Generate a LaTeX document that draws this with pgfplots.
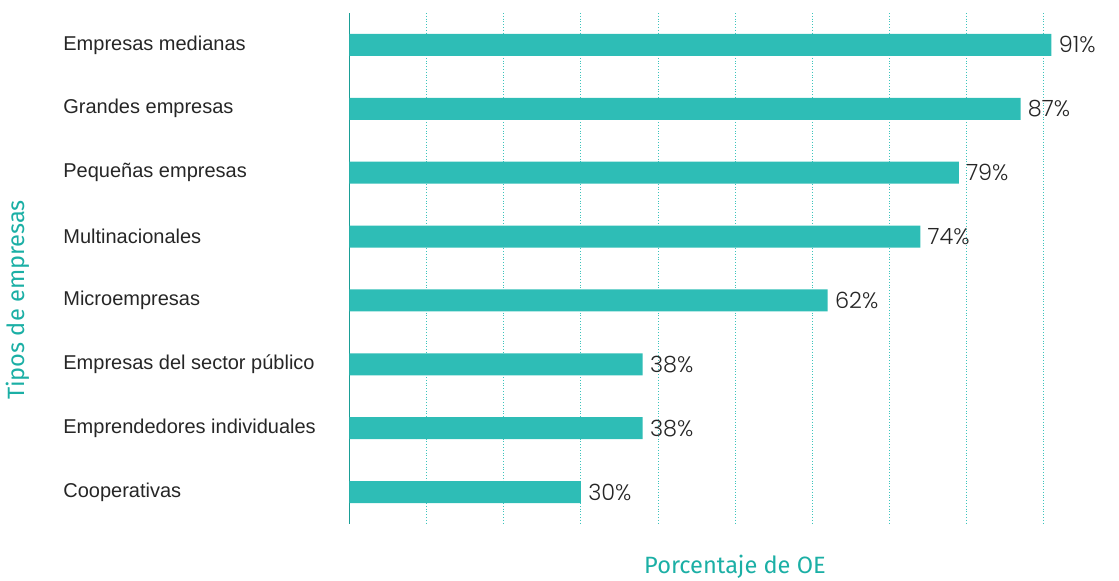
\documentclass[border=0pt]{standalone}
\usepackage{pgfplots}
\pgfplotsset{compat=1.18}
\usepackage{fontspec}
\setmainfont{Liberation Sans}
\newfontfamily\titlefont{Fira Sans}
\newfontfamily\pctfont{Poppins Light}
\definecolor{barteal}{HTML}{2EBDB6}
\definecolor{titleteal}{HTML}{1BAFA5}
\definecolor{gridteal}{HTML}{3CC4BC}
\definecolor{axisteal}{HTML}{1A9E96}
\begin{document}
\begin{tikzpicture}
\begin{axis}[
  scale only axis,
  width=366.4pt, height=255.5pt,
  xbar, bar width=11pt,
  xmin=0, xmax=95,
  ymin=-0.5, ymax=7.5, y dir=reverse,
  ytick={0,...,7},
  yticklabels={Empresas medianas, Grandes empresas, Pequeñas empresas, Multinacionales, Microempresas, Empresas del sector público, Emprendedores individuales, Cooperativas},
  yticklabel style={anchor=west, xshift=-143.25pt, inner xsep=0pt, font=\fontsize{10}{12}\selectfont, text=black!85},
  xtick={0,10,...,90}, xticklabels={},
  major tick length=0pt,
  xmajorgrids, grid style={gridteal, densely dotted, line width=0.5pt},
  axis lines=left,
  axis line style={-},
  x axis line style={draw=none},
  every outer y axis line/.append style={draw=axisteal, line width=0.7pt},
  nodes near coords={\pgfmathprintnumber[assume math mode=true]{\pgfplotspointmeta}\%},
  nodes near coords style={anchor=west, inner xsep=3.5pt, font=\pctfont\fontsize{11.2}{13}\selectfont, text=black!85},
  point meta=x,
  clip=false,
]
\addplot[fill=barteal, draw=none] coordinates {(91,0) (87,1) (79,2) (74,3) (62,4) (38,5) (38,6) (30,7)};
\end{axis}
\node[rotate=90, text=titleteal, font=\titlefont\fontsize{11.8}{14}\selectfont] at ([shift={(-165.75pt,112pt)}]current axis.south west) {Tipos de empresas};
\node[text=titleteal, font=\titlefont\fontsize{11.8}{14}\selectfont] at ([shift={(192.75pt,-21.5pt)}]current axis.south west) {Porcentaje de OE};
\pgfresetboundingbox
\path (current axis.south west) ++(-174.75pt,-28.5pt) rectangle ++(559.5pt,290.5pt);
\end{tikzpicture}
\end{document}
